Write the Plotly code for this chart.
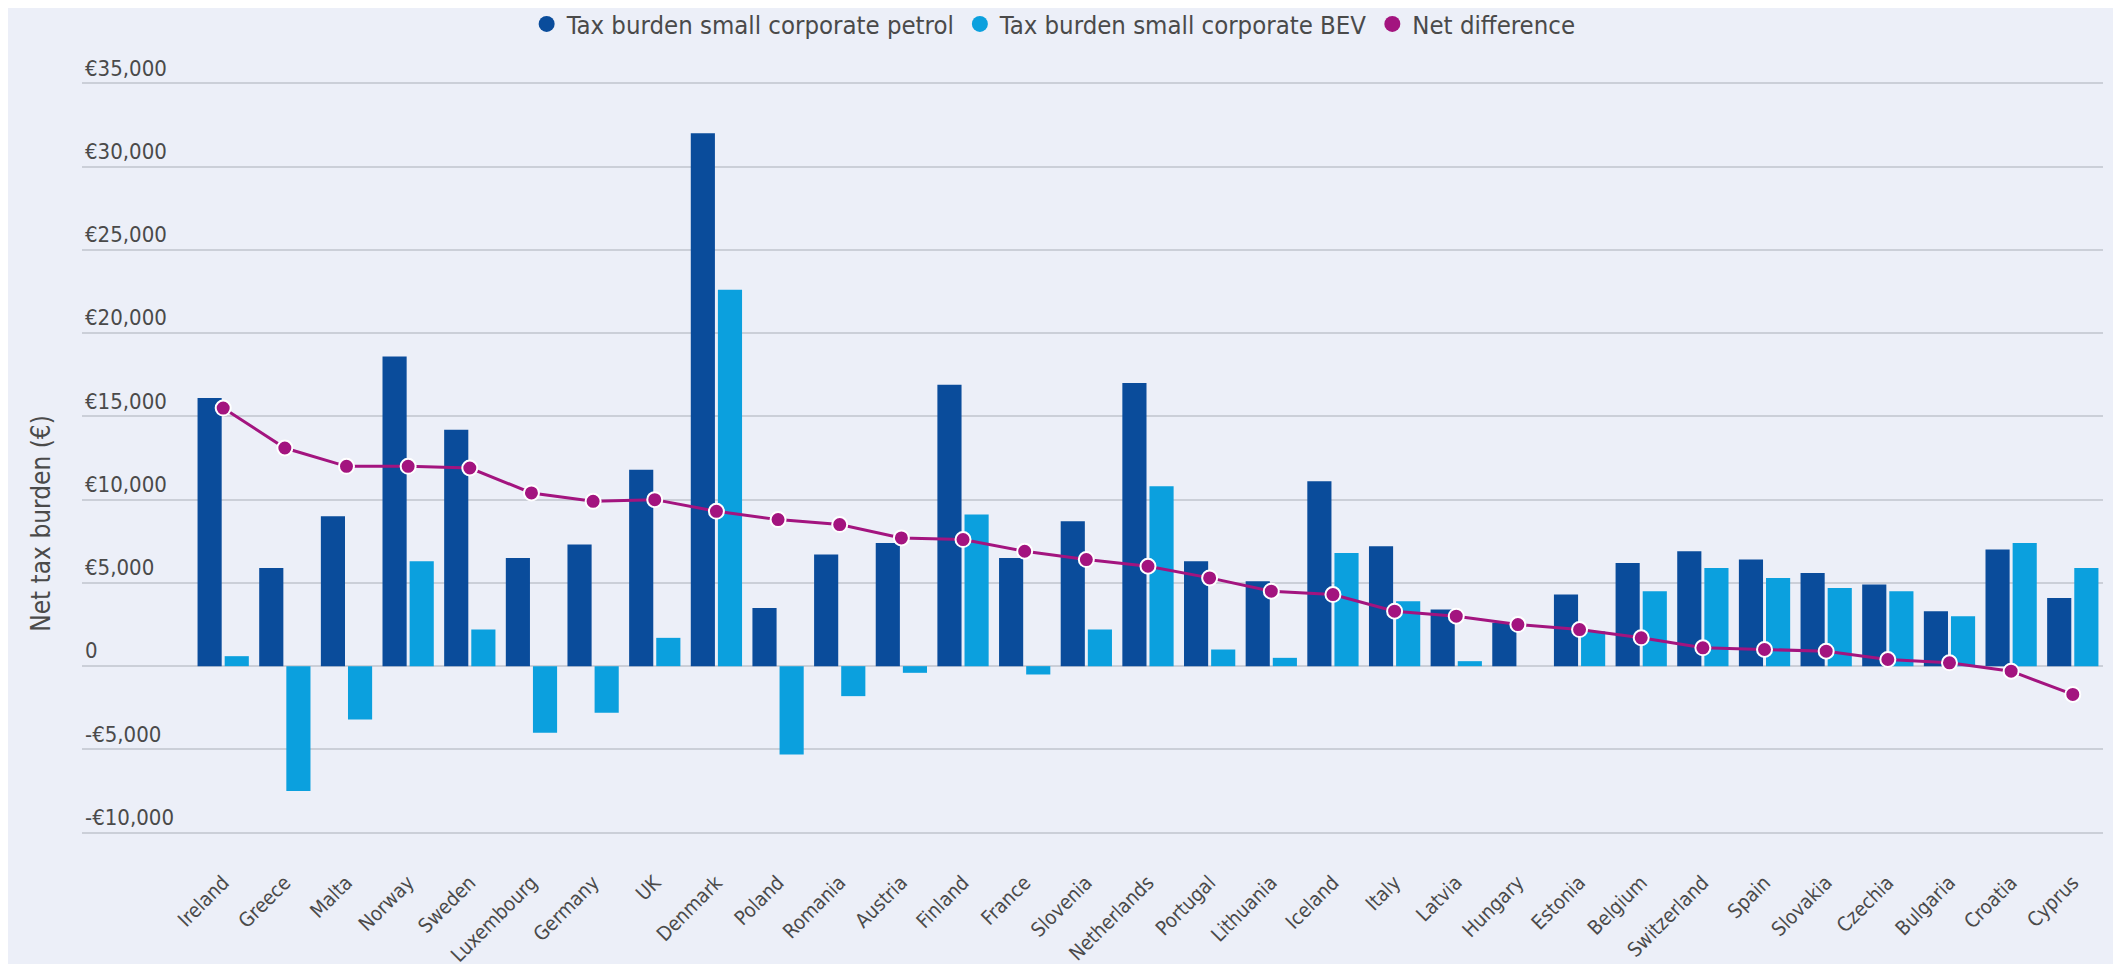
import plotly.graph_objects as go

countries = ["Ireland", "Greece", "Malta", "Norway", "Sweden", "Luxembourg", "Germany", "UK",
             "Denmark", "Poland", "Romania", "Austria", "Finland", "France", "Slovenia",
             "Netherlands", "Portugal", "Lithuania", "Iceland", "Italy", "Latvia", "Hungary",
             "Estonia", "Belgium", "Switzerland", "Spain", "Slovakia", "Czechia", "Bulgaria",
             "Croatia", "Cyprus"]

petrol = [16100, 5900, 9000, 18600, 14200, 6500, 7300, 11800, 32000, 3500, 6700, 7400,
          16900, 6500, 8700, 17000, 6300, 5100, 11100, 7200, 3400, 2600, 4300, 6200,
          6900, 6400, 5600, 4900, 3300, 7000, 4100]

bev = [600, -7500, -3200, 6300, 2200, -4000, -2800, 1700, 22600, -5300, -1800, -400,
       9100, -500, 2200, 10800, 1000, 500, 6800, 3900, 300, 0, 2100, 4500,
       5900, 5300, 4700, 4500, 3000, 7400, 5900]

net = [15500, 13100, 12000, 12000, 11900, 10400, 9900, 10000, 9300, 8800, 8500, 7700,
       7600, 6900, 6400, 6000, 5300, 4500, 4300, 3300, 3000, 2500, 2200, 1700,
       1100, 1000, 900, 400, 200, -300, -1700]

y_tick_vals = [-10000, -5000, 0, 5000, 10000, 15000, 20000, 25000, 30000, 35000]
y_tick_text = ["-€10,000", "-€5,000", "0", "€5,000", "€10,000", "€15,000", "€20,000",
               "€25,000", "€30,000", "€35,000"]

name_petrol = "Tax burden small corporate petrol"
name_bev = "Tax burden small corporate BEV"
name_net = "Net difference"

C_PETROL = "#0A4C9B"
C_BEV = "#0BA0DE"
C_NET = "#A3147F"
BG = "#ECEFF8"
GRID = "#CBCFD8"
TXT = "#4A4A4A"
FONT = "DejaVu Sans Condensed, Lato, sans-serif"

fig = go.Figure()
fig.add_trace(go.Bar(x=countries, y=petrol, name=name_petrol, marker_color=C_PETROL,
                     marker_line_width=0, showlegend=False))
fig.add_trace(go.Bar(x=countries, y=bev, name=name_bev, marker_color=C_BEV,
                     marker_line_width=0, showlegend=False))
fig.add_trace(go.Scatter(x=countries, y=net, name=name_net, mode="lines+markers",
                         line=dict(color=C_NET, width=3),
                         marker=dict(color=C_NET, size=15, line=dict(color="white", width=2)),
                         showlegend=False))

# legend entries (circle symbols)
for nm, col in [(name_petrol, C_PETROL), (name_bev, C_BEV), (name_net, C_NET)]:
    fig.add_trace(go.Scatter(x=[None], y=[None], mode="markers", name=nm,
                             marker=dict(color=col, size=16, symbol="circle")))

fig.update_layout(
    width=2121, height=964,
    paper_bgcolor=BG, plot_bgcolor=BG,
    margin=dict(l=74, r=26, t=42, b=106, autoexpand=False),
    barmode="group", bargap=0.12, bargroupgap=0.11,
    font=dict(family=FONT, color=TXT, size=22),
    legend=dict(orientation="h", xref="container", x=0.493, xanchor="center",
                yref="container", y=0.983, yanchor="middle",
                font=dict(size=25.5, color=TXT), bgcolor="rgba(0,0,0,0)",
                itemsizing="trace", tracegroupgap=0),
    showlegend=True,
)
fig.update_xaxes(range=[-2.29, 30.49], tickangle=-45, showgrid=False, zeroline=False,
                 showline=False, ticks="", automargin=False,
                 tickfont=dict(size=20, color=TXT))
fig.update_yaxes(range=[-12000, 37000], tickvals=y_tick_vals, ticktext=y_tick_text,
                 ticklabelposition="inside top", showgrid=True, gridcolor=GRID, gridwidth=2,
                 zeroline=False, showline=False, ticks="", automargin=False,
                 tickfont=dict(size=22, color=TXT))

fig.add_annotation(text="Net tax burden (€)", textangle=-90, xref="paper", yref="paper",
                   x=-0.02, y=0.42, xanchor="center", yanchor="middle", showarrow=False,
                   font=dict(size=26, color=TXT))

fig.write_html("out.html")
